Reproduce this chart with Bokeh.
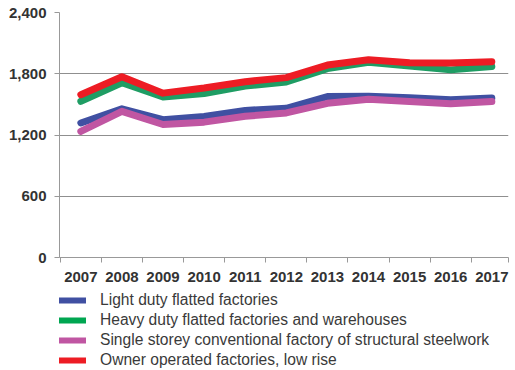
from bokeh.plotting import figure
from bokeh.layouts import column
from bokeh.models import (Range1d, FixedTicker, NumeralTickFormatter, Legend, LegendItem)
from bokeh.embed import file_html
from bokeh.resources import INLINE

# Annual values, 2007-2017
years = [2007, 2008, 2009, 2010, 2011, 2012, 2013, 2014, 2015, 2016, 2017]
light_duty = [1318, 1456, 1350, 1382, 1441, 1462, 1576, 1580, 1565, 1546, 1562]
heavy_duty = [1530, 1712, 1572, 1607, 1680, 1720, 1850, 1912, 1876, 1838, 1870]
single_storey = [1235, 1432, 1303, 1326, 1383, 1416, 1510, 1551, 1527, 1507, 1528]
owner_operated = [1595, 1770, 1610, 1660, 1722, 1762, 1885, 1938, 1908, 1905, 1918]

series_names = [
    "Light duty flatted factories",
    "Heavy duty flatted factories and warehouses",
    "Single storey conventional factory of structural steelwork",
    "Owner operated factories, low rise",
]
series_values = [light_duty, heavy_duty, single_storey, owner_operated]
series_colors = ["#4050a2", "#1f9d64", "#c056a2", "#ed1c24"]
legend_colors = ["#4050a2", "#00a651", "#c056a2", "#ed1c24"]

y_ticks = [0, 600, 1200, 1800, 2400]

FONT = "Liberation Sans"
TEXT = "#333333"

x_start = years[0] - 0.519
x_end = years[-1] + 0.406

p = figure(
    width=515, height=289,
    min_border_left=56, min_border_right=7, min_border_top=12, min_border_bottom=32,
    x_range=Range1d(x_start, x_end), y_range=Range1d(0, 2400),
    output_backend="svg", toolbar_location=None,
    background_fill_color="white", border_fill_color="white",
)
p.outline_line_color = None

# X axis: labels at the years, tick marks between them
boundaries = [y - 0.5 for y in years] + [x_end]
p.xaxis.ticker = FixedTicker(ticks=years, minor_ticks=boundaries)
p.xaxis.major_tick_out = 0
p.xaxis.major_tick_in = 0
p.xaxis.minor_tick_out = 5
p.xaxis.minor_tick_in = 0
p.xaxis.minor_tick_line_color = "#999999"
p.xaxis.axis_line_color = "#999999"
p.xaxis.major_label_standoff = 9
p.xaxis.major_label_text_font = FONT
p.xaxis.major_label_text_font_style = "bold"
p.xaxis.major_label_text_font_size = "15px"
p.xaxis.major_label_text_color = TEXT

# Y axis
p.yaxis.ticker = FixedTicker(ticks=y_ticks)
p.yaxis.formatter = NumeralTickFormatter(format="0,0")
p.yaxis.major_tick_out = 5
p.yaxis.major_tick_in = 0
p.yaxis.minor_tick_line_color = None
p.yaxis.major_tick_line_color = "#999999"
p.yaxis.axis_line_color = "#999999"
p.yaxis.major_label_standoff = 8
p.yaxis.major_label_text_font = FONT
p.yaxis.major_label_text_font_style = "bold"
p.yaxis.major_label_text_font_size = "15px"
p.yaxis.major_label_text_color = TEXT

p.xgrid.grid_line_color = None
p.ygrid.grid_line_color = "#8f8f8f"
p.ygrid.grid_line_width = 1

for vals, col in zip(series_values, series_colors):
    p.line(years, vals, line_color=col, line_width=7,
           line_cap="round", line_join="round")

# Legend strip underneath the chart; its frame starts where the swatches do
leg = figure(
    width=515, height=81,
    min_border_left=59, min_border_right=0, min_border_top=0, min_border_bottom=0,
    x_axis_location=None, y_axis_location=None,
    x_range=Range1d(0, 1), y_range=Range1d(0, 1),
    output_backend="svg", toolbar_location=None,
    background_fill_color="white", border_fill_color="white",
)
leg.grid.visible = False
leg.outline_line_color = None

items = []
for name, lcol in zip(series_names, legend_colors):
    # single-point line: draws nothing itself, only supplies the swatch style
    lr = leg.line([0.5], [0.5], line_color=lcol, line_width=6, line_cap="round")
    items.append(LegendItem(label=name, renderers=[lr]))

legend = Legend(
    items=items, location="bottom_left", orientation="vertical",
    padding=0, margin=0, spacing=0,
    glyph_width=27, glyph_height=20, label_height=20, label_standoff=14,
    label_text_font=FONT, label_text_font_size="15.6px", label_text_color="#3a3a3a",
    border_line_color=None, background_fill_alpha=0,
)
leg.add_layout(legend, "center")

layout = column(p, leg, spacing=0)
open("out.html", "w").write(file_html(layout, INLINE))
